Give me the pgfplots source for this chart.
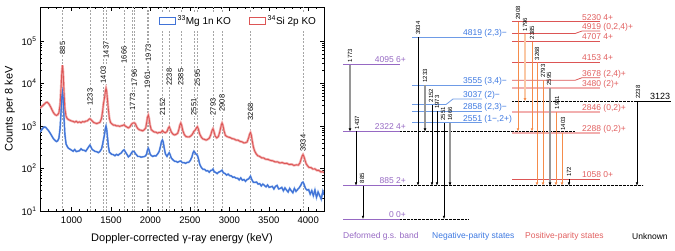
\documentclass[border=0pt]{standalone}
\usepackage{pgfplots}
\pgfplotsset{compat=1.18}
\usepackage{pgfplotstable}
\usepackage{fontspec}
\setmainfont{Liberation Sans}
\usetikzlibrary{arrows.meta}

\definecolor{cblue}{RGB}{65,115,215}
\definecolor{cred}{RGB}{220,85,85}
\definecolor{cbluel}{RGB}{165,195,240}
\definecolor{credl}{RGB}{242,175,175}
\definecolor{cpurple}{RGB}{150,105,195}
\definecolor{clvlblue}{RGB}{110,155,230}
\definecolor{ctxtblue}{RGB}{60,120,225}
\definecolor{ctxtred}{RGB}{225,95,95}
\definecolor{cpink}{RGB}{242,175,175}
\definecolor{corange}{RGB}{245,140,75}
\definecolor{corangel}{RGB}{250,200,165}
\definecolor{cgray}{RGB}{150,150,150}

\pgfplotstableread{
E C
600 2650
615 2800
630 2950
645 3150
660 3350
675 3550
690 3620
705 3450
720 3150
735 2800
750 2450
765 2150
780 1950
795 1820
810 1780
825 1850
840 2050
855 3200
867 8000
877 19000
885 27000
893 19000
903 7000
915 2600
930 1700
945 1500
960 1420
980 1360
1000 1310
1020 1280
1040 1230
1060 1290
1080 1210
1100 1250
1120 1200
1140 1270
1160 1240
1180 1300
1200 1320
1220 1430
1233 1480
1246 1410
1262 1310
1280 1210
1300 1170
1320 1140
1340 1180
1360 1220
1380 1500
1395 2300
1405 3400
1418 4600
1430 6800
1437 7700
1445 6600
1455 4200
1467 2400
1480 1500
1495 1200
1510 1130
1530 1050
1550 1050
1570 1000
1590 1010
1610 980
1630 1010
1650 1030
1666 1070
1680 1000
1700 950
1720 900
1740 960
1760 1100
1773 1160
1785 1180
1796 1190
1810 1120
1825 960
1840 870
1860 810
1880 795
1900 770
1920 810
1940 900
1952 1200
1962 1600
1973 1800
1983 1500
1995 1050
2010 820
2030 760
2050 720
2070 715
2090 680
2110 705
2130 700
2152 775
2170 715
2190 695
2210 740
2225 880
2238 960
2250 850
2265 720
2285 645
2305 615
2325 635
2345 675
2360 820
2373 1050
2385 1170
2397 1020
2410 780
2430 625
2450 565
2470 555
2490 550
2510 580
2530 635
2551 745
2570 815
2583 900
2595 960
2607 850
2625 640
2645 545
2665 495
2685 485
2705 465
2725 485
2745 515
2765 620
2780 780
2793 860
2805 740
2820 580
2840 525
2860 560
2875 680
2890 900
2900 1080
2908 1170
2918 1050
2932 780
2950 600
2970 565
2990 545
3010 535
3035 505
3060 495
3085 465
3110 465
3135 435
3160 425
3185 400
3205 405
3225 420
3245 530
3257 640
3268 700
3278 620
3290 450
3305 320
3320 260
3340 222
3360 200
3385 192
3410 178
3435 177
3460 165
3490 164
3520 155
3550 152
3580 143
3610 144
3640 135
3670 138
3700 131
3730 132
3760 124
3790 126
3820 118
3850 122
3875 120
3895 135
3910 165
3922 195
3934 212
3946 190
3960 155
3975 128
3990 117
4010 106
4035 105
4060 97
4085 98
4110 90
4135 90
4160 83
4180 84
4200 80
}\redtab

\pgfplotstableread{
E C
600 720
615 780
630 860
645 920
660 950
675 920
690 850
705 790
720 720
735 650
750 580
765 520
780 480
795 450
810 430
825 450
840 520
855 900
867 2200
877 4800
885 6500
893 4600
903 1800
915 650
930 380
945 330
960 300
980 285
1000 270
1020 255
1040 280
1060 250
1080 255
1100 262
1120 290
1140 270
1160 268
1180 255
1200 290
1220 330
1233 355
1246 320
1262 280
1280 265
1300 252
1320 248
1340 236
1360 252
1380 290
1395 380
1405 480
1418 640
1430 900
1437 1000
1445 850
1455 560
1467 330
1480 240
1495 228
1510 215
1530 212
1550 200
1570 215
1590 205
1610 220
1630 232
1650 262
1666 275
1680 248
1700 218
1720 188
1740 202
1760 233
1773 252
1785 253
1796 247
1810 222
1825 208
1840 192
1860 192
1880 185
1900 188
1920 190
1940 200
1952 220
1962 270
1973 300
1983 270
1995 220
2010 202
2030 192
2050 200
2070 197
2090 218
2110 250
2125 320
2140 430
2152 470
2162 420
2175 300
2190 220
2210 193
2225 217
2238 235
2250 210
2265 175
2285 160
2305 148
2325 147
2345 140
2365 147
2385 150
2405 138
2425 138
2445 132
2465 139
2485 140
2505 154
2525 185
2540 235
2551 255
2562 240
2575 220
2595 205
2610 165
2625 125
2645 106
2665 96
2685 96
2705 88
2725 89
2745 82
2765 90
2780 91
2793 97
2808 84
2825 81
2845 76
2865 82
2885 85
2908 91
2925 79
2945 76
2965 70
2985 74
3005 68
3025 67
3045 62
3065 63
3085 59
3105 59
3125 54
3145 60
3165 53
3185 55
3205 50
3225 55
3245 57
3268 66
3285 55
3305 47
3325 47
3345 48
3365 43
3385 44
3405 39
3425 43
3445 40
3465 37
3485 41
3505 36
3525 37
3545 38
3565 33
3585 38
3605 40
3625 33
3645 34
3665 36
3685 30
3705 35
3725 31
3745 28
3765 34
3785 30
3805 27
3825 34
3845 29
3865 32
3885 35
3905 40
3920 46
3934 48
3948 42
3965 34
3985 31
4005 32
4025 25
4045 30
4065 23
4085 31
4105 21
4125 28
4145 23
4165 19
4185 29
4200 24
}\bluetab

\tikzset{
 lv/.style={line width=0.8pt},
 dotl/.style={black, line width=0.45pt, dash pattern=on 0.45pt off 0.9pt},
 arr/.style={black, line width=0.5pt, -{Latex[length=3.2pt,width=2.6pt]}},
 garr/.style={cgray, line width=2pt, -{Latex[length=3.2pt,width=3pt,color=black]}},
 oarr/.style={corange, line width=0.7pt, -{Latex[length=3.2pt,width=2.8pt]}},
 poarr/.style={corangel, line width=2pt, -{Latex[length=3.2pt,width=3pt,color=corange]}},
 tl/.style={rotate=90, anchor=west, inner sep=0.5pt, font=\fontsize{6}{6}\selectfont},
 lt/.style={anchor=base west, inner sep=0pt, font=\fontsize{8.5}{9}\selectfont},
 lbl/.style={rotate=90, fill=white, inner sep=0.6pt, font=\fontsize{7.5}{8}\selectfont},
}

\begin{document}
\begin{tikzpicture}
\useasboundingbox (0pt,0pt) rectangle (675pt,250pt);
\begin{axis}[
  at={(40pt,39pt)}, anchor=south west,
  width=284pt, height=204pt, scale only axis,
  xmin=600, xmax=4200, ymode=log, ymin=10, ymax=6.3e5,
  xtick={1000,1500,2000,2500,3000,3500,4000},
  xticklabels={1000,1500,2000,2500,3000,3500,4000},
  minor xtick={600,700,...,4200},
  ytick={10,100,1000,10000,100000},
  yticklabels={10\textsuperscript{1},10\textsuperscript{2},10\textsuperscript{3},10\textsuperscript{4},10\textsuperscript{5}},
  tick label style={font=\fontsize{9.5}{10}\selectfont},
  xticklabel style={yshift=-2pt},
  xlabel={Doppler-corrected γ-ray energy (keV)},
  ylabel={Counts per 8 keV},
  label style={font=\fontsize{11}{12}\selectfont},
  xlabel style={yshift=-3pt},
  major tick length=4pt, minor tick length=2pt,
  tick style={black, line width=0.5pt},
  axis line style={line width=0.8pt},
  extra x ticks={885,1233,1403,1437,1666,1773,1796,1961,1973,2152,2238,2385,2551,2595,2793,2908,3268,3934},
  extra x tick labels={},
  extra x tick style={grid=major, major grid style={black!35, dash pattern=on 2pt off 1.5pt, line width=0.45pt}, major tick length=0pt},
  legend style={at={(0.985,0.975)}, anchor=north east, draw=none, fill=white, inner sep=1.5pt, legend columns=2, font=\fontsize{10}{11}\selectfont, /tikz/every even column/.append style={column sep=16pt}},
]
\addplot[cbluel, line width=2pt, forget plot] table[x=E,y=C] {\bluetab};
\addplot[credl, line width=2.4pt, forget plot] table[x=E,y=C] {\redtab};
\addplot[cblue, line width=0.9pt, legend image code/.code={\draw[cblue, solid, line width=0.8pt, fill=white] (0pt,-3.5pt) rectangle (16pt,3.5pt);}] table[x=E,y=C] {\bluetab};
\addlegendentry{\textsuperscript{33}Mg 1n KO}
\addplot[cred, line width=0.9pt, legend image code/.code={\draw[cred, solid, line width=0.8pt, fill=white] (0pt,-3.5pt) rectangle (16pt,3.5pt);}] table[x=E,y=C] {\redtab};
\addlegendentry{\textsuperscript{34}Si 2p KO}
\addplot[cblue, line width=0.9pt, forget plot] table[x=E,y=C] {\bluetab};

\node[lbl] at (axis cs:885,68400) {885};
\node[lbl] at (axis cs:1233,4790) {1233};
\node[lbl] at (axis cs:1403,15900) {1403};
\node[lbl] at (axis cs:1437,61500) {1437};
\node[lbl] at (axis cs:1666,46900) {1666};
\node[lbl] at (axis cs:1773,3670) {1773};
\node[lbl] at (axis cs:1796,13500) {1796};
\node[lbl] at (axis cs:1961,12100) {1961};
\node[lbl] at (axis cs:1973,52600) {1973};
\node[lbl] at (axis cs:2152,2810) {2152};
\node[lbl] at (axis cs:2238,14200) {2238};
\node[lbl] at (axis cs:2385,14200) {2385};
\node[lbl] at (axis cs:2551,2810) {2551};
\node[lbl] at (axis cs:2595,13500) {2595};
\node[lbl] at (axis cs:2793,2810) {2793};
\node[lbl] at (axis cs:2908,3470) {2908};
\node[lbl] at (axis cs:3268,2140) {3268};
\node[lbl] at (axis cs:3934,398) {3934};
\end{axis}

\begin{axis}[
  at={(335pt,0pt)}, anchor=south west,
  width=340pt, height=250pt, scale only axis,
  xmin=335, xmax=675, ymin=-822, ymax=5809,
  axis lines=none, clip=false,
]
% dotted continuations
\addplot[dotl] coordinates {(400,2322) (575,2322)};
\addplot[dotl] coordinates {(400,885) (643,885)};
\addplot[dotl] coordinates {(400,0) (468,0)};
\addplot[dotl] coordinates {(512,3123) (638,3123)};
\addplot[black, line width=0.8pt] coordinates {(638,3123) (671,3123)};
% deformed band levels
\addplot[cpurple, lv] coordinates {(343,4095) (400,4095)};
\addplot[cpurple, lv] coordinates {(343,2322) (400,2322)};
\addplot[cpurple, lv] coordinates {(343,885) (400,885)};
\addplot[cpurple, lv] coordinates {(343,0) (400,0)};
% negative parity levels
\addplot[clvlblue, lv] coordinates {(412,4819) (482,4819)};
\addplot[clvlblue, lv] coordinates {(412,3555) (482,3555)};
\addplot[clvlblue, lv] coordinates {(412,3037) (446,3037) (453,3183) (482,3183)};
\addplot[clvlblue, lv] coordinates {(412,2858) (482,2858)};
\addplot[clvlblue, lv] coordinates {(412,2551) (482,2551)};
% positive parity levels
\addplot[cred, lv] coordinates {(512,5230) (600,5230)};
\addplot[cred, lv] coordinates {(512,4919) (575,4919) (582,4987) (600,4987)};
\addplot[cred, lv] coordinates {(512,4707) (600,4707)};
\addplot[cred, lv] coordinates {(512,4153) (600,4153)};
\addplot[cred, lv] coordinates {(512,3678) (575,3678) (582,3748) (600,3748)};
\addplot[cpink, line width=1.8pt] coordinates {(512,3480) (600,3480)};
\addplot[cpink, line width=1.8pt] coordinates {(512,2846) (600,2846)};
\addplot[cpink, line width=1.8pt] coordinates {(512,2288) (600,2288)};
\addplot[cred, lv] coordinates {(512,1058) (600,1058)};
% transitions
\addplot[garr] coordinates {(350,4095) (350,2322)};
\addplot[arr] coordinates {(356,2322) (356,885)};
\addplot[arr] coordinates {(363,885) (363,0)};
\addplot[arr] coordinates {(418,4819) (418,885)};
\addplot[garr] coordinates {(425,3555) (425,2322)};
\addplot[arr] coordinates {(432,3037) (432,885)};
\addplot[arr] coordinates {(437,2858) (437,885)};
\addplot[arr] coordinates {(444,2551) (444,0)};
\addplot[garr] coordinates {(450,2551) (450,885)};
\addplot[oarr] coordinates {(518,5230) (518,2322)};
\addplot[poarr] coordinates {(525,4919) (525,3123)};
\addplot[oarr] coordinates {(532,4707) (532,2322)};
\addplot[oarr] coordinates {(537,4153) (537,885)};
\addplot[oarr] coordinates {(543,3678) (543,885)};
\addplot[garr] coordinates {(550,3480) (550,885)};
\addplot[oarr] coordinates {(556,2846) (556,885)};
\addplot[oarr] coordinates {(562,2288) (562,885)};
\addplot[arr] coordinates {(569,1058) (569,885)};
\addplot[arr] coordinates {(637,3123) (637,885)};
% transition labels
\node[tl] at (axis cs:350,4140) {1773};
\node[tl] at (axis cs:357,2367) {1437};
\node[tl] at (axis cs:362,930) {885};
\node[tl] at (axis cs:418,4864) {3934};
\node[tl] at (axis cs:425,3600) {1233};
\node[tl] at (axis cs:431,3082) {2152};
\node[tl] at (axis cs:437,2903) {1973};
\node[tl] at (axis cs:443,2596) {2551};
\node[tl] at (axis cs:450,2596) {1666};
\node[tl] at (axis cs:518,5275) {2908};
\node[tl] at (axis cs:525,4964) {1796};
\node[tl] at (axis cs:532,4752) {2385};
\node[tl] at (axis cs:537,4198) {3268};
\node[tl] at (axis cs:543,3723) {2793};
\node[tl] at (axis cs:549,3525) {2595};
\node[tl] at (axis cs:557,2891) {1961};
\node[tl] at (axis cs:563,2333) {1403};
\node[tl] at (axis cs:569,1103) {172};
\node[tl] at (axis cs:638,3168) {2238};
% level labels
\node[lt, anchor=base east, text=cpurple] at (axis cs:406,4140) {4095 6+};
\node[lt, anchor=base east, text=cpurple] at (axis cs:406,2367) {2322 4+};
\node[lt, anchor=base east, text=cpurple] at (axis cs:406,930) {885 2+};
\node[lt, anchor=base east, text=cpurple] at (axis cs:406,45) {0 0+};
\node[lt, text=ctxtblue] at (axis cs:463,4864) {4819 (2,3)−};
\node[lt, text=ctxtblue] at (axis cs:463,3600) {3555 (3,4)−};
\node[lt, text=ctxtblue] at (axis cs:463,3228) {3037 (2)−};
\node[lt, text=ctxtblue] at (axis cs:463,2903) {2858 (2,3)−};
\node[lt, text=ctxtblue] at (axis cs:463,2596) {2551 (1−,2+)};
\node[lt, text=ctxtred] at (axis cs:582,5275) {5230 4+};
\node[lt, text=ctxtred] at (axis cs:582,5032) {4919 (0,2,4)+};
\node[lt, text=ctxtred] at (axis cs:582,4752) {4707 4+};
\node[lt, text=ctxtred] at (axis cs:582,4198) {4153 4+};
\node[lt, text=ctxtred] at (axis cs:582,3793) {3678 (2,4)+};
\node[lt, text=ctxtred] at (axis cs:582,3525) {3480 (2)+};
\node[lt, text=ctxtred] at (axis cs:582,2891) {2846 (0,2)+};
\node[lt, text=ctxtred] at (axis cs:582,2333) {2288 (0,2)+};
\node[lt, text=ctxtred] at (axis cs:582,1103) {1058 0+};
\node[lt, text=black, font=\fontsize{9}{9}\selectfont] at (axis cs:650,3173) {3123};
% group labels
\node[anchor=west, inner sep=0pt, text=cpurple, font=\fontsize{8.5}{9}\selectfont] at (axis cs:343,-451) {Deformed g.s. band};
\node[anchor=west, inner sep=0pt, text=ctxtblue, font=\fontsize{8.5}{9}\selectfont] at (axis cs:432,-451) {Negative-parity states};
\node[anchor=west, inner sep=0pt, text=ctxtred, font=\fontsize{8.5}{9}\selectfont] at (axis cs:525,-451) {Positive-parity states};
\node[anchor=west, inner sep=0pt, text=black, font=\fontsize{8.5}{9}\selectfont] at (axis cs:632,-451) {Unknown};
\end{axis}
\end{tikzpicture}
\end{document}
